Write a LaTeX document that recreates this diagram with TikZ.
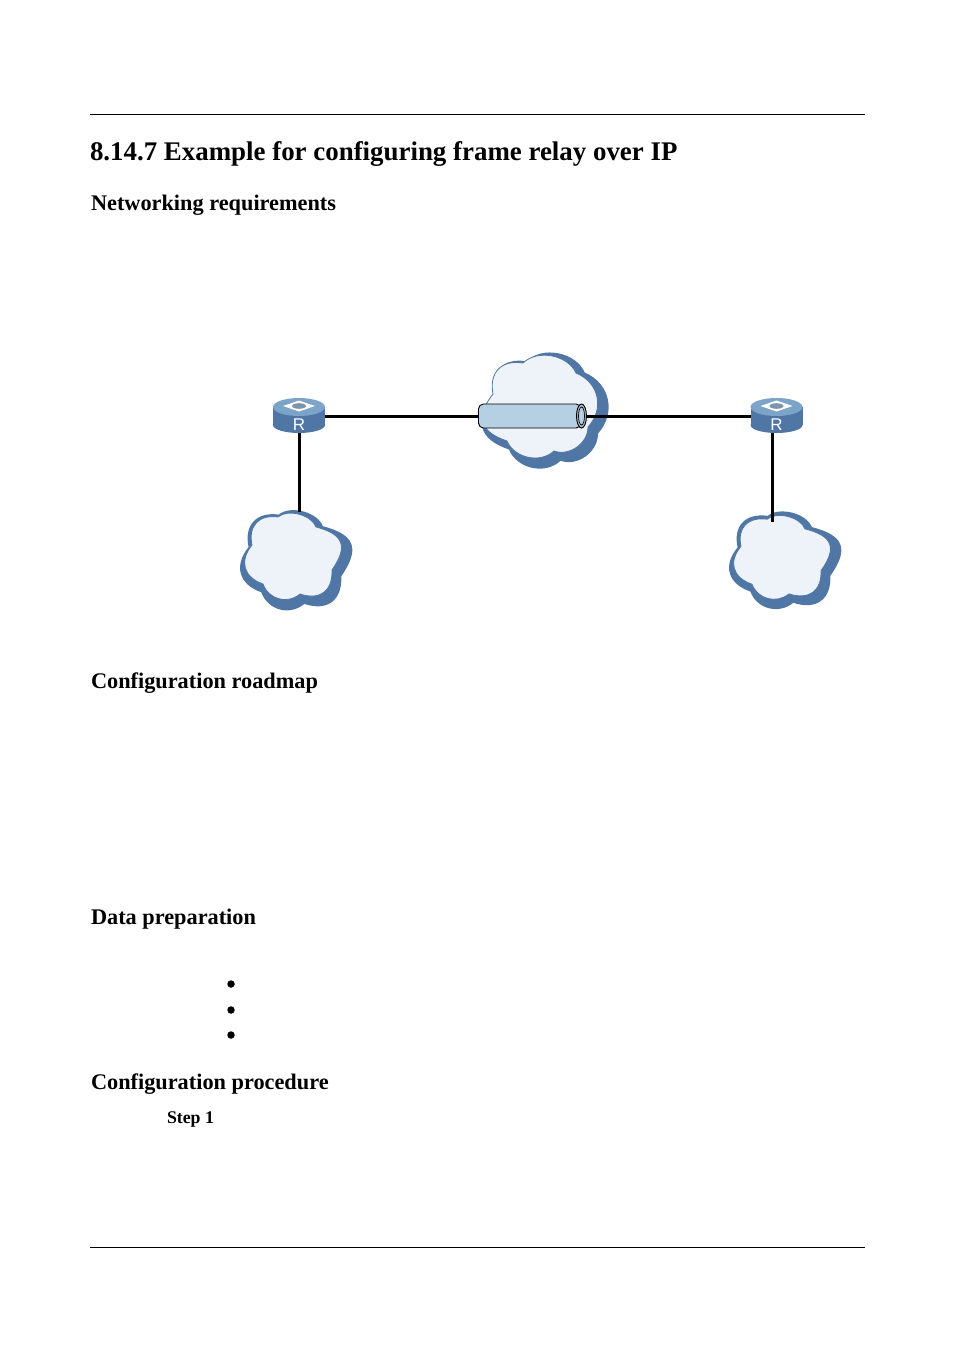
\documentclass[tikz,border=0pt]{standalone}
\usepackage{fontspec}
\setmainfont{Liberation Serif}
\setsansfont{Liberation Sans}
\usetikzlibrary{positioning}
\definecolor{cloudblue}{HTML}{4F76A4}
\definecolor{cloudpale}{HTML}{EEF3FA}
\definecolor{routertop}{HTML}{7BA4C8}
\definecolor{tubeblue}{HTML}{B5D0E2}
\tikzset{lobe/.style={bend left=55, looseness=#1}}

% Cloud outlines, centred on the origin
\def\cloudside{(-14,-40) to[lobe=.85] (24,-30) to[lobe=1.6] (40,13) to[lobe=1.35] (8,37) to[lobe=1.1] (-29,27) to[lobe=1.3] (-40,-12) to[lobe=1.3] (-14,-40) -- cycle}
\def\cloudmid{(-15,-44) to[lobe=.95] (38,-34) to[lobe=1.15] (50,20) to[lobe=1] (16,44) to[lobe=1] (-31,34) to[lobe=1.5] (-45,-13) to[lobe=1.3] (-15,-44) -- cycle}

\begin{document}
\begin{tikzpicture}[
    x=1pt, y=-1pt,
    every node/.style={inner sep=0pt, outer sep=0pt},
    heading/.style={anchor=base west, font=\bfseries\fontsize{22.3}{24}\selectfont},
    title/.style={anchor=base west, font=\bfseries\fontsize{26.9}{30}\selectfont},
    stepnote/.style={anchor=base west, font=\bfseries\fontsize{17.8}{20}\selectfont},
    rule/.style={line width=0.8pt},
    link/.style={line width=3pt},
    cloudback/.style={fill=cloudblue, draw=none},
    cloudfront/.style={fill=cloudpale, draw=cloudblue, line width=0.8pt},
    router/.style={minimum width=52pt, minimum height=36pt},
    bullet/.style={circle, fill=black, minimum size=7.5pt}
]
    \useasboundingbox (0,0) rectangle (954,1350);

    % Page rules
    \coordinate (topL) at (90,114);
    \coordinate (topR) at (865,114);
    \coordinate (botL) at (90,1247);
    \coordinate (botR) at (865,1247);
    \draw[rule] (topL) -- (topR);
    \draw[rule] (botL) -- (botR);

    % Headings
    \node[title] (sec) at (90,160.5) {8.14.7 Example for configuring frame relay over IP};
    \node[heading] (req) at (91,210) {Networking requirements};
    \node[heading] (map) at (91,688) {Configuration roadmap};
    \node[heading] (data) at (91,924) {Data preparation};
    \node[heading] (proc) at (91,1089) {Configuration procedure};
    \node[stepnote] (step1) at (167,1123) {Step 1};

    % Bullets
    \foreach \i/\y in {1/984, 2/1010, 3/1035} {
        \node[bullet] (b\i) at (231,\y) {};
    }

    % Clouds
    \draw[cloudback, shift={(295,561)}, xscale=1.16, yscale=1.16] \cloudside;
    \draw[cloudfront, shift={(292,557)}] \cloudside;
    \draw[cloudback, shift={(784,561)}, xscale=1.16, yscale=1.13] \cloudside;
    \draw[cloudfront, shift={(781,558)}, yscale=.97] \cloudside;
    \draw[cloudback, shift={(543,411)}, xscale=1.1, yscale=1.13] \cloudmid;
    \draw[cloudfront, shift={(538,407)}] \cloudmid;

    % Routers
    \node[router] (routerA) at (299,415) {};
    \node[router] (routerB) at (776.5,415) {};
    \foreach \r in {routerA, routerB} {
        \fill[cloudblue] (\r.west) ++(0,-8) rectangle ++(52,18);
        \fill[cloudblue] (\r) ++(0,10) ellipse[x radius=26, y radius=8];
        \fill[routertop] (\r) ++(0,-8) ellipse[x radius=26, y radius=9];
        \fill[white] (\r) ++(-16,-9) -- ++(16,-5.5) -- ++(16,5.5) -- ++(-16,5.5) -- cycle;
        \fill[routertop!60!gray] (\r) ++(0,-9) ellipse[x radius=7, y radius=2.8];
        \node[text=white, font=\sffamily\fontsize{17}{17}\selectfont] (\r label) at ([yshift=-10pt]\r) {R};
    }

    % Connections
    \coordinate (tubeIn) at (480,416);
    \coordinate (tubeOut) at (584,416);
    \coordinate (footB) at (772,433);
    \coordinate (cloudAtop) at (299,512);
    \coordinate (cloudBtop) at (772,522);
    \coordinate (portA) at (325,416);
    \coordinate (portB) at (751,416);
    \draw[link] (portA) -- (tubeIn);
    \draw[link] (tubeOut) -- (portB);
    \draw[link] (routerA.south) -- (cloudAtop);
    \draw[link] (footB) -- (cloudBtop);

    % Tube through the middle cloud
    \draw[fill=tubeblue, line width=0.9pt, rounded corners=5pt] (581,404) -- (478.5,404) -- (478.5,428) -- (581,428) -- cycle;
    \draw[fill=tubeblue!70!gray, line width=0.9pt] (581.5,416) ellipse[x radius=5, y radius=12];
    \draw[fill=tubeblue, line width=0.7pt] (581.5,416) ellipse[x radius=3, y radius=9];

\end{tikzpicture}
\end{document}
